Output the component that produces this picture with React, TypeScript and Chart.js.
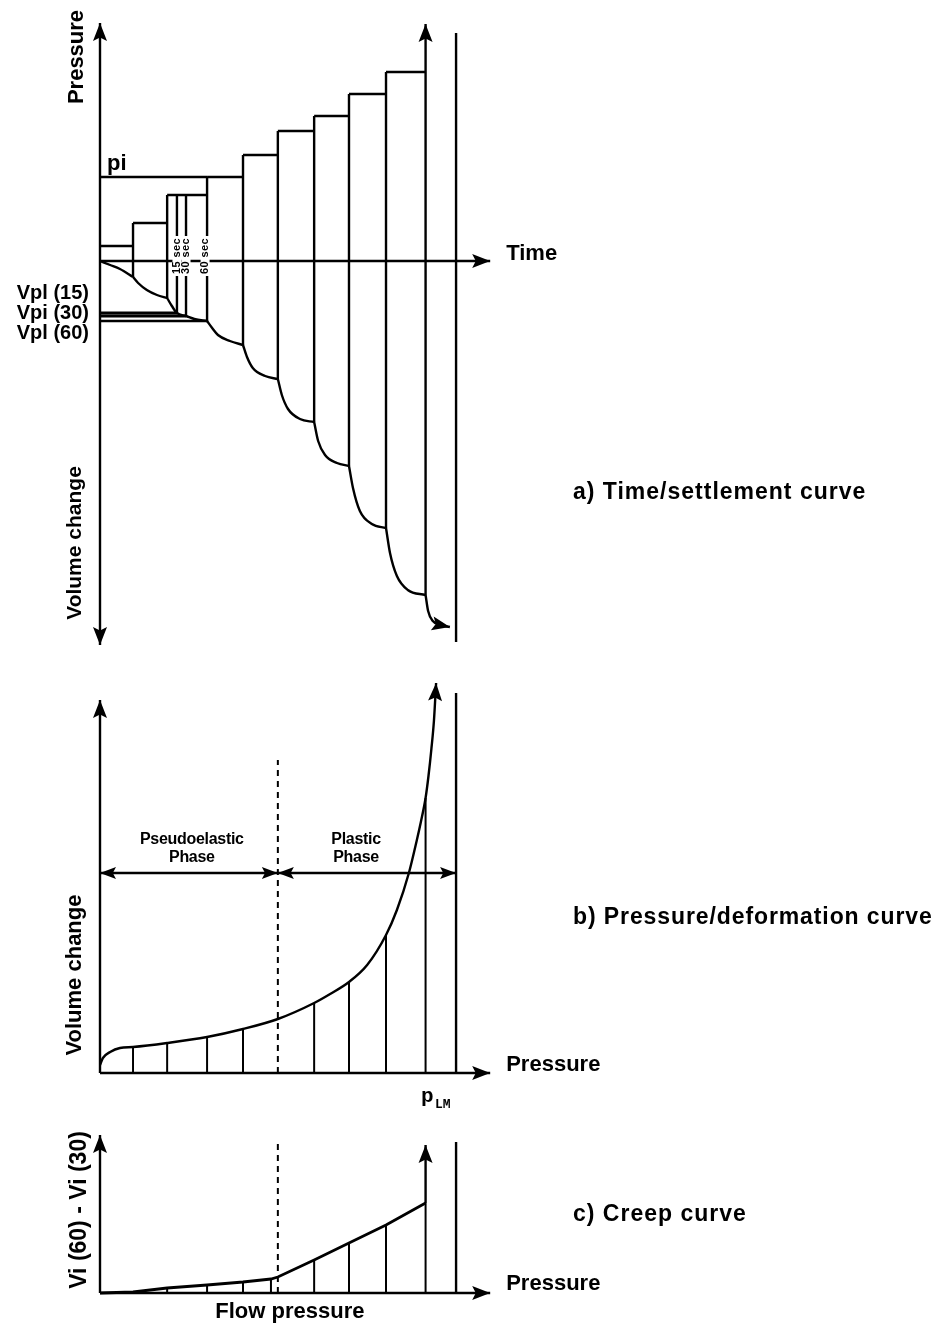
import React, { useEffect, useRef } from "react";
import { Chart, registerables } from "chart.js";

Chart.register(...registerables);

const INK = "#000000";
const SANS = "'Liberation Sans', Arial, Helvetica, sans-serif";
const MONO = "'Liberation Mono', 'Courier New', monospace";
const LW = 2.4;

// ---------------- a) Time / settlement curve ----------------
const stepTimes = [0, 0.91, 1.85, 2.95, 3.94, 4.9, 5.9, 6.86, 7.88, 8.97]; // start of each load step
const stepPressures = [15, 38, 66, 84, 106, 130, 145, 167, 189]; // pressure held in each step
const stepEndVolumes = [-16, -37, -60, -84, -118, -161, -205, -267, -334]; // volume change at end of each step
const piPressure = 84;
const secLabels = ["15 sec", "30 sec", "60 sec"];
const secTimes = [2.12, 2.37, 2.95];
const vpiLabels = ["Vpl (15)", "Vpi (30)", "Vpl (60)"];
const vpiVolumes = [-52, -55, -60];
const settlementSegments: [number, number][][] = [
  [[0, 0], [0.28, -4], [0.55, -8], [0.91, -16]],
  [[0.91, -16], [1.05, -22], [1.29, -29], [1.57, -34], [1.85, -37]],
  [[1.85, -37], [1.98, -45], [2.12, -52], [2.37, -55], [2.6, -58], [2.95, -60]],
  [[2.95, -60], [3.09, -67], [3.25, -74], [3.58, -80], [3.94, -84]],
  [[3.94, -84], [4.05, -96], [4.21, -107], [4.55, -115], [4.9, -118]],
  [[4.9, -118], [5.01, -134], [5.18, -148], [5.51, -158], [5.9, -161]],
  [[5.9, -161], [6.01, -180], [6.2, -194], [6.53, -202], [6.86, -205]],
  [[6.86, -205], [6.97, -227], [7.16, -250], [7.49, -263], [7.88, -267]],
  [[7.88, -267], [7.99, -292], [8.18, -315], [8.48, -329], [8.97, -334]],
  [[8.97, -334], [9.04, -350], [9.17, -360], [9.37, -364], [9.64, -366]],
];
const timeAxisEnd = 10.75;
const pressureAxisTop = 238;
const volumeAxisBottom = -384;
const limitPressure = 9.81;
const limitLineTopA = 228;
const limitLineBottomA = -381;

// ---------------- b) Pressure / deformation curve ----------------
const loadPressures = [0.91, 1.85, 2.95, 3.94, 4.9, 5.9, 6.86, 7.88, 8.97];
const deformAtSteps = [26, 30, 36, 44, 54, 70, 91, 138, 275];
const deformPressures = [0, 0.08, 0.28, 0.55, 0.91, 1.85, 2.95, 3.94, 4.9, 5.9, 6.34, 6.86, 7.36, 7.88, 8.18, 8.51, 8.73, 8.84, 8.97, 9.05, 9.13, 9.2, 9.26];
const deformVolumes = [8, 15, 21, 25, 26, 30, 36, 44, 54, 70, 79, 91, 108, 138, 163, 200, 233, 251, 275, 297, 324, 352, 390];
const flowPressure = 4.9;
const flowLineTopB = 313;
const limitLineTopB = 380;
const phaseArrowLevel = 200;
const deformAxisTop = 373;
const phaseLabels = [["Pseudoelastic", "Phase"], ["Plastic", "Phase"]];

// ---------------- c) Creep curve ----------------
const creepPressures = [0, 0.91, 1.85, 2.95, 3.94, 4.71, 4.9, 5.9, 6.86, 7.88, 8.97];
const creepValues = [0, 1, 5, 8, 11, 14, 16, 33, 50, 68, 90];
const creepArrowTop = 148;
const creepAxisTop = 158;
const creepRefTop = 151;

type Pt = { x: number; y: number };

const line = (data: Pt[], extra: Record<string, unknown> = {}) => ({
  data,
  showLine: true,
  pointRadius: 0,
  pointHoverRadius: 0,
  borderColor: INK,
  backgroundColor: INK,
  borderWidth: LW,
  fill: false,
  clip: false,
  tension: 0,
  ...extra,
});
const seg = (x1: number, y1: number, x2: number, y2: number, extra: Record<string, unknown> = {}) =>
  line([{ x: x1, y: y1 }, { x: x2, y: y2 }], extra);

function arrowHead(ctx: CanvasRenderingContext2D, fx: number, fy: number, tx: number, ty: number, len = 18, half = 7) {
  const dx = tx - fx;
  const dy = ty - fy;
  const d = Math.hypot(dx, dy) || 1;
  const ux = dx / d;
  const uy = dy / d;
  const nx = -uy;
  const ny = ux;
  ctx.save();
  ctx.fillStyle = INK;
  ctx.beginPath();
  ctx.moveTo(tx, ty);
  ctx.lineTo(tx - ux * len + nx * half, ty - uy * len + ny * half);
  ctx.lineTo(tx - ux * len * 0.8, ty - uy * len * 0.8);
  ctx.lineTo(tx - ux * len - nx * half, ty - uy * len - ny * half);
  ctx.closePath();
  ctx.fill();
  ctx.restore();
}

function drawText(
  ctx: CanvasRenderingContext2D,
  s: string,
  x: number,
  y: number,
  font: string,
  align: CanvasTextAlign = "left",
  rotate = 0,
  spacing = 0,
  baseline: CanvasTextBaseline = "middle"
) {
  ctx.save();
  ctx.font = font;
  ctx.fillStyle = INK;
  ctx.textAlign = align;
  ctx.textBaseline = baseline;
  (ctx as any).letterSpacing = `${spacing}px`;
  ctx.translate(x, y);
  if (rotate) ctx.rotate(rotate);
  ctx.fillText(s, 0, 0);
  ctx.restore();
}

const baseOptions = (yMin: number, yMax: number, top: number, bottom: number) => ({
  responsive: false,
  maintainAspectRatio: false,
  animation: false,
  devicePixelRatio: 1,
  events: [],
  layout: { padding: { left: 100, right: 444, top, bottom } },
  plugins: { legend: { display: false }, tooltip: { enabled: false }, title: { display: false } },
  scales: {
    x: { type: "linear", display: false, min: 0, max: 10.8 },
    y: { type: "linear", display: false, min: yMin, max: yMax },
  },
});

const scalesOf = (chart: any) => ({
  X: (v: number) => chart.scales.x.getPixelForValue(v),
  Y: (v: number) => chart.scales.y.getPixelForValue(v),
});

// ---------- Chart A config ----------
function buildA() {
  const datasets: any[] = [];
  datasets.push(seg(0, volumeAxisBottom, 0, pressureAxisTop));
  datasets.push(seg(0, 0, timeAxisEnd, 0));
  datasets.push(seg(0, piPressure, stepTimes[3], piPressure));
  stepPressures.forEach((p, i) => datasets.push(seg(stepTimes[i], p, stepTimes[i + 1], p)));
  for (let i = 1; i < stepPressures.length; i++) {
    datasets.push(seg(stepTimes[i], stepPressures[i], stepTimes[i], stepEndVolumes[i - 1]));
  }
  datasets.push(seg(stepTimes[9], stepEndVolumes[8], stepTimes[9], pressureAxisTop - 1));
  for (let k = 0; k < 2; k++) datasets.push(seg(secTimes[k], stepPressures[2], secTimes[k], vpiVolumes[k]));
  vpiVolumes.forEach((v, k) => datasets.push(seg(0, v, secTimes[k], v, { borderWidth: k < 2 ? 3 : LW })));
  datasets.push(seg(limitPressure, limitLineBottomA, limitPressure, limitLineTopA));
  settlementSegments.forEach((s) =>
    datasets.push(line(s.map(([x, y]) => ({ x, y })), { cubicInterpolationMode: "monotone" }))
  );

  const plugin = {
    id: "panelA",
    afterDatasetsDraw(chart: any) {
      const ctx: CanvasRenderingContext2D = chart.ctx;
      const { X, Y } = scalesOf(chart);
      arrowHead(ctx, X(0), Y(0), X(0), Y(pressureAxisTop));
      arrowHead(ctx, X(0), Y(0), X(0), Y(volumeAxisBottom));
      arrowHead(ctx, X(0), Y(0), X(timeAxisEnd), Y(0));
      arrowHead(ctx, X(stepTimes[9]), Y(0), X(stepTimes[9]), Y(pressureAxisTop - 1));
      const last = settlementSegments[settlementSegments.length - 1];
      const a = last[last.length - 2];
      const b = last[last.length - 1];
      arrowHead(ctx, X(a[0]), Y(a[1]), X(b[0]), Y(b[1]));

      // sec labels with white backing
      secLabels.forEach((s, k) => {
        const cx = X(secTimes[k]) - (k === 2 ? 2 : 0);
        const cy = Y(0) - 5;
        ctx.save();
        ctx.fillStyle = "#ffffff";
        ctx.fillRect(cx - 4.5, cy - 20, 9, 40);
        ctx.restore();
        drawText(ctx, s, cx, cy, `bold 11px ${SANS}`, "center", -Math.PI / 2, 0.4);
      });

      drawText(ctx, "Pressure", 77, 57, `bold 22px ${SANS}`, "center", -Math.PI / 2);
      drawText(ctx, "pi", 107, Y(piPressure) - 7, `bold 22px ${SANS}`, "left", 0, 0, "alphabetic");
      vpiLabels.forEach((s, k) =>
        drawText(ctx, s, 89, Y(vpiVolumes[1]) - 3 + (k - 1) * 20, `bold 20px ${SANS}`, "right")
      );
      drawText(ctx, "Volume change", 75, 543, `bold 21px ${SANS}`, "center", -Math.PI / 2);
      drawText(ctx, "Time", X(timeAxisEnd) + 16, Y(0) - 7, `bold 22px ${SANS}`, "left");
      drawText(ctx, "a) Time/settlement curve", 573, 493, `bold 23px ${SANS}`, "left", 0, 1);
    },
  };

  return {
    type: "scatter",
    data: { datasets },
    options: baseOptions(-385, 240, 21, 14),
    plugins: [plugin],
  };
}

// ---------- Chart B config ----------
function buildB() {
  const datasets: any[] = [];
  datasets.push(seg(0, 0, 0, deformAxisTop));
  datasets.push(seg(0, 0, timeAxisEnd, 0));
  loadPressures.forEach((p, i) => {
    if (p !== flowPressure) datasets.push(seg(p, 0, p, deformAtSteps[i], { borderWidth: 2 }));
  });
  datasets.push(seg(flowPressure, 0, flowPressure, flowLineTopB, { borderDash: [6, 5], borderWidth: 2 }));
  datasets.push(seg(limitPressure, 0, limitPressure, limitLineTopB));
  datasets.push(seg(0, phaseArrowLevel, flowPressure, phaseArrowLevel));
  datasets.push(seg(flowPressure, phaseArrowLevel, limitPressure, phaseArrowLevel));
  datasets.push(
    line(deformPressures.map((x, i) => ({ x, y: deformVolumes[i] })), { cubicInterpolationMode: "monotone" })
  );

  const plugin = {
    id: "panelB",
    afterDatasetsDraw(chart: any) {
      const ctx: CanvasRenderingContext2D = chart.ctx;
      const { X, Y } = scalesOf(chart);
      arrowHead(ctx, X(0), Y(0), X(0), Y(deformAxisTop));
      arrowHead(ctx, X(0), Y(0), X(timeAxisEnd), Y(0));
      const n = deformPressures.length;
      arrowHead(ctx, X(deformPressures[n - 2]), Y(deformVolumes[n - 2]), X(deformPressures[n - 1]), Y(deformVolumes[n - 1]));
      const ly = Y(phaseArrowLevel);
      arrowHead(ctx, X(flowPressure), ly, X(0), ly, 16, 6);
      arrowHead(ctx, X(0), ly, X(flowPressure), ly, 16, 6);
      arrowHead(ctx, X(limitPressure), ly, X(flowPressure), ly, 16, 6);
      arrowHead(ctx, X(flowPressure), ly, X(limitPressure), ly, 16, 6);

      const c1 = X(flowPressure / 2 + 0.08);
      const c2 = X((flowPressure + limitPressure) / 2 - 0.3);
      [c1, c2].forEach((cx, k) => {
        drawText(ctx, phaseLabels[k][0], cx, ly - 33, `bold 16px ${SANS}`, "center", 0, -0.3);
        drawText(ctx, phaseLabels[k][1], cx, ly - 15, `bold 16px ${SANS}`, "center", 0, -0.3);
      });

      drawText(ctx, "Volume change", 75, 315, `bold 22px ${SANS}`, "center", -Math.PI / 2);
      drawText(ctx, "Pressure", X(timeAxisEnd) + 16, Y(0) - 8, `bold 22px ${SANS}`, "left");
      drawText(ctx, "p", X(limitPressure) - 35, Y(0) + 29, `bold 21px ${MONO}`, "left", 0, 0, "alphabetic");
      drawText(ctx, "LM", X(limitPressure) - 21, Y(0) + 35, `bold 13px ${MONO}`, "left", 0, 0, "alphabetic");
      drawText(ctx, "b) Pressure/deformation curve", 573, 258, `bold 23px ${SANS}`, "left", 0, 0.9);
    },
  };

  return {
    type: "scatter",
    data: { datasets },
    options: baseOptions(0, 400, 13, 37),
    plugins: [plugin],
  };
}

// ---------- Chart C config ----------
function buildC() {
  const datasets: any[] = [];
  datasets.push(seg(0, 0, 0, creepAxisTop));
  datasets.push(seg(0, 0, timeAxisEnd, 0));
  creepPressures.forEach((p, i) => {
    if (i > 0 && p !== flowPressure) datasets.push(seg(p, 0, p, creepValues[i], { borderWidth: 2 }));
  });
  datasets.push(seg(flowPressure, 0, flowPressure, creepRefTop, { borderDash: [6, 5], borderWidth: 2 }));
  datasets.push(seg(limitPressure, 0, limitPressure, creepRefTop));
  const lastP = creepPressures[creepPressures.length - 1];
  const lastV = creepValues[creepValues.length - 1];
  datasets.push(seg(lastP, lastV, lastP, creepArrowTop));
  datasets.push(line(creepPressures.map((x, i) => ({ x, y: creepValues[i] })), { borderWidth: 2.8 }));

  const plugin = {
    id: "panelC",
    afterDatasetsDraw(chart: any) {
      const ctx: CanvasRenderingContext2D = chart.ctx;
      const { X, Y } = scalesOf(chart);
      arrowHead(ctx, X(0), Y(0), X(0), Y(creepAxisTop));
      arrowHead(ctx, X(0), Y(0), X(timeAxisEnd), Y(0));
      arrowHead(ctx, X(lastP), Y(lastV), X(lastP), Y(creepArrowTop));
      drawText(ctx, "Vi (60) - Vi (30)", 80, 100, `bold 23px ${SANS}`, "center", -Math.PI / 2);
      drawText(ctx, "Flow pressure", X(flowPressure) + 12, Y(0) + 19, `bold 22px ${SANS}`, "center");
      drawText(ctx, "Pressure", X(timeAxisEnd) + 16, Y(0) - 9, `bold 22px ${SANS}`, "left");
      drawText(ctx, "c) Creep curve", 573, 105, `bold 23px ${SANS}`, "left", 0, 1);
    },
  };

  return {
    type: "scatter",
    data: { datasets },
    options: baseOptions(0, 170, 13, 31),
    plugins: [plugin],
  };
}

function Panel({ top, height, build }: { top: number; height: number; build: () => any }) {
  const ref = useRef<HTMLCanvasElement>(null);
  useEffect(() => {
    if (!ref.current) return;
    const chart = new Chart(ref.current, build());
    return () => chart.destroy();
  }, []);
  return (
    <canvas
      ref={ref}
      width={936}
      height={height}
      style={{ position: "absolute", left: 0, top, width: 936, height, display: "block" }}
    />
  );
}

export default function App() {
  return (
    <div style={{ position: "absolute", left: 0, top: 0, width: 936, height: 1324, background: "#ffffff", overflow: "hidden" }}>
      <Panel top={0} height={660} build={buildA} />
      <Panel top={660} height={450} build={buildB} />
      <Panel top={1110} height={214} build={buildC} />
    </div>
  );
}
